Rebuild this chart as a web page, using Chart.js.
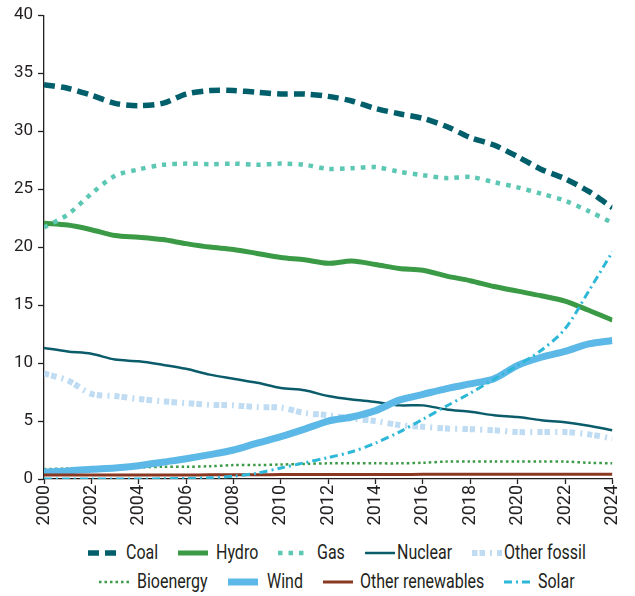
<!DOCTYPE html>
<html>
<head>
<meta charset="utf-8">
<script src="https://cdn.jsdelivr.net/npm/chart.js@4"></script>
<style>
  body { margin: 0; background: #fff; }
  #wrap { position: relative; width: 635px; height: 596px; }
  #legend {
    position: absolute; left: 67px; top: 538px; width: 540px;
    display: flex; flex-wrap: wrap; justify-content: center;
    font: 19.5px Roboto, 'DejaVu Sans', sans-serif;
    color: #231f20;
  }
  #legend .item { display: flex; align-items: center; height: 29px; margin: 0 10px; white-space: nowrap; }
  #legend .item span { display: inline-block; transform: scaleX(0.82); transform-origin: left center; }
</style>
</head>
<body>
<div id="wrap">
  <canvas id="mixChart" width="635" height="535"></canvas>
  <div id="legend"></div>
</div>
<script>
// share of electricity generation (%), 2000-2024
const years = [2000, 2001, 2002, 2003, 2004, 2005, 2006, 2007, 2008, 2009, 2010, 2011, 2012,
               2013, 2014, 2015, 2016, 2017, 2018, 2019, 2020, 2021, 2022, 2023, 2024];

const coal        = [34.0, 33.7, 33.1, 32.4, 32.2, 32.4, 33.2, 33.5, 33.5, 33.35, 33.2, 33.2, 33.0,
                     32.6, 31.95, 31.5, 31.1, 30.4, 29.45, 28.8, 27.8, 26.7, 25.9, 24.8, 23.4];
const hydro       = [22.05, 21.9, 21.5, 21.0, 20.85, 20.65, 20.3, 20.0, 19.8, 19.45, 19.1, 18.9, 18.6,
                     18.8, 18.5, 18.15, 18.0, 17.5, 17.1, 16.6, 16.2, 15.8, 15.35, 14.55, 13.7];
const gas         = [21.7, 22.8, 24.6, 26.15, 26.7, 27.1, 27.2, 27.15, 27.2, 27.1, 27.2, 27.1, 26.75,
                     26.8, 26.9, 26.5, 26.2, 25.95, 26.05, 25.6, 25.15, 24.6, 24.0, 23.1, 22.1];
const nuclear     = [11.3, 11.0, 10.8, 10.3, 10.15, 9.85, 9.5, 9.0, 8.65, 8.3, 7.85, 7.65, 7.15,
                     6.85, 6.65, 6.35, 6.35, 6.0, 5.8, 5.5, 5.35, 5.07, 4.9, 4.6, 4.2];
const otherFossil = [9.1, 8.5, 7.35, 7.15, 6.9, 6.7, 6.55, 6.4, 6.35, 6.2, 6.15, 5.7, 5.5,
                     5.2, 5.0, 4.65, 4.5, 4.35, 4.3, 4.2, 4.05, 4.05, 4.05, 3.85, 3.5];
const bioenergy   = [0.85, 0.9, 0.9, 0.95, 1.0, 1.05, 1.05, 1.1, 1.2, 1.2, 1.25, 1.3, 1.35,
                     1.35, 1.35, 1.35, 1.4, 1.5, 1.5, 1.5, 1.5, 1.5, 1.5, 1.4, 1.35];
const wind        = [0.6, 0.7, 0.85, 0.95, 1.15, 1.45, 1.75, 2.1, 2.5, 3.1, 3.65, 4.3, 5.0,
                     5.35, 5.9, 6.8, 7.3, 7.8, 8.2, 8.65, 9.8, 10.5, 11.0, 11.65, 11.95];
const otherRenew  = [0.35, 0.35, 0.35, 0.35, 0.35, 0.35, 0.35, 0.36, 0.36, 0.37, 0.38, 0.38, 0.38,
                     0.39, 0.39, 0.39, 0.4, 0.4, 0.4, 0.4, 0.4, 0.4, 0.4, 0.4, 0.4];
const solar       = [0.0, 0.0, 0.0, 0.0, 0.0, 0.02, 0.05, 0.1, 0.25, 0.5, 0.95, 1.4, 1.85,
                     2.35, 3.1, 4.05, 5.15, 6.3, 7.4, 8.6, 9.8, 11.1, 12.95, 16.2, 19.6];

const seriesNames = ['Coal', 'Hydro', 'Gas', 'Nuclear', 'Other fossil',
                     'Bioenergy', 'Wind', 'Other renewables', 'Solar'];
const seriesData  = [coal, hydro, gas, nuclear, otherFossil, bioenergy, wind, otherRenew, solar];

// line looks per series (gap = space between legend sample and text)
const styles = {
  'Coal':             { color: '#005f6b', width: 5.5, dash: [11, 6], gap: 8 },
  'Hydro':            { color: '#3b9a45', width: 5,   dash: [], gap: 8 },
  'Gas':              { color: '#5cc7b3', width: 4.5, dash: [4.5, 6], gap: 9 },
  'Nuclear':          { color: '#0a5c6a', width: 2.5, dash: [], gap: 2 },
  'Other fossil':     { color: '#bfdcf3', width: 6,   dash: [5.5, 2, 5.5, 5, 2, 5], gap: 2 },
  'Bioenergy':        { color: '#3b9a45', width: 2.5, dash: [2.5, 3], gap: 8 },
  'Wind':             { color: '#5cb8e6', width: 7,   dash: [], gap: 9 },
  'Other renewables': { color: '#8b3822', width: 3,   dash: [], gap: 7 },
  'Solar':            { color: '#2eb8d8', width: 3,   dash: [8, 4, 2, 4], gap: 4 }
};

Chart.defaults.font.family = "Roboto, 'DejaVu Sans', sans-serif";
Chart.defaults.color = '#231f20';

const datasets = seriesNames.map((name, i) => ({
  label: name,
  data: seriesData[i],
  borderColor: styles[name].color,
  borderWidth: styles[name].width,
  borderDash: styles[name].dash,
  borderCapStyle: 'butt',
  pointRadius: 0,
  tension: 0.3,
  fill: false,
  order: seriesNames.length - i   // later series drawn on top
}));

const ctx = document.getElementById('mixChart').getContext('2d');
new Chart(ctx, {
  type: 'line',
  data: { labels: years, datasets: datasets },
  options: {
    responsive: false,
    animation: false,
    layout: { padding: { top: 14, right: 15, left: 0, bottom: 0 } },
    plugins: { legend: { display: false }, tooltip: { enabled: false } },
    scales: {
      x: {
        type: 'linear',
        min: 2000, max: 2024,
        grid: { drawOnChartArea: false, tickLength: 5, tickColor: '#231f20', tickWidth: 1.3 },
        border: { color: '#231f20', width: 1.3 },
        ticks: {
          stepSize: 2, minRotation: 90, maxRotation: 90, padding: 1,
          font: { size: 18 },
          callback: v => String(v)
        },
        afterFit: s => { s.height = 56; }
      },
      y: {
        min: 0, max: 40,
        grid: { drawOnChartArea: false, tickLength: 6, tickColor: '#231f20', tickWidth: 1.3 },
        border: { color: '#231f20', width: 1.3 },
        ticks: { stepSize: 5, padding: 5, font: { size: 17 } },
        afterFit: s => { s.width = 44; }
      }
    }
  }
});

// html legend, two rows like the original
const legend = document.getElementById('legend');
seriesNames.forEach(name => {
  const st = styles[name];
  const item = document.createElement('div');
  item.className = 'item';
  item.innerHTML =
    '<svg width="30" height="8" style="margin-right:' + st.gap + 'px"><line x1="0" y1="4" x2="30" y2="4" stroke="' + st.color +
    '" stroke-width="' + st.width + '" stroke-dasharray="' + (st.dash.length ? st.dash.join(',') : 'none') +
    '"/></svg><span>' + name + '</span>';
  legend.appendChild(item);
  const span = item.querySelector('span');
  span.style.marginRight = (-0.18 * span.offsetWidth) + 'px';
});
</script>
</body>
</html>
